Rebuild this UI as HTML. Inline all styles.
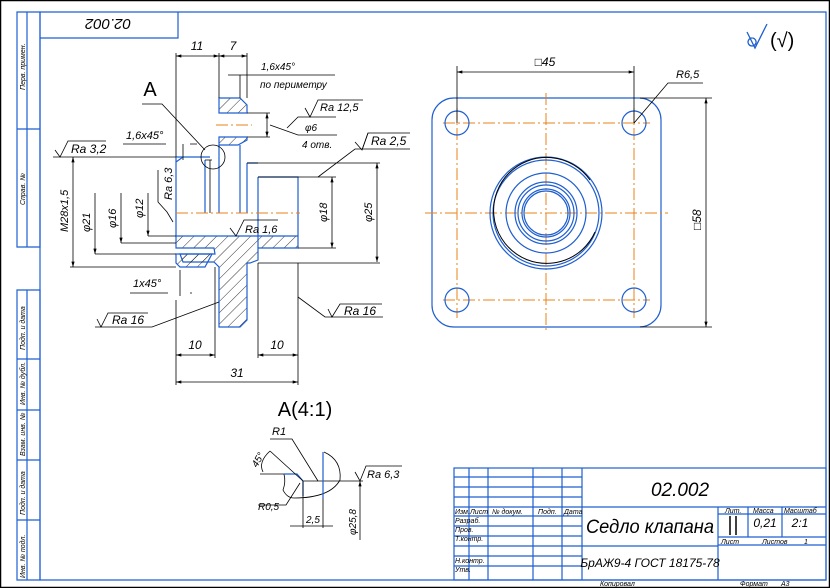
<!DOCTYPE html>
<html><head><meta charset="utf-8"><style>
html,body{margin:0;padding:0;background:#fff;}
svg{display:block;}
text{font-family:"Liberation Sans",sans-serif;font-style:italic;fill:#000;}
.b{stroke:#1f5fd0;fill:none;stroke-width:1.2}
.k{stroke:#000;fill:none;stroke-width:0.8}
.o{stroke:#e8801a;fill:none;stroke-width:1;stroke-dasharray:12 3 2 3}
.hh{stroke:#1f5fd0;stroke-width:1.2;fill:url(#h)}
</style></head><body>
<svg width="830" height="588" viewBox="0 0 830 588" xmlns="http://www.w3.org/2000/svg">
<defs>
<pattern id="h" patternUnits="userSpaceOnUse" width="8" height="8" patternTransform="rotate(45)"><line x1="0" y1="0" x2="0" y2="8" stroke="#000" stroke-width="0.8"/></pattern>
<marker id="a" viewBox="0 0 10 6" refX="10" refY="3" markerWidth="8" markerHeight="4" orient="auto-start-reverse"><path d="M0,0 L10,3 L0,6z" fill="#000"/></marker>
</defs>
<rect x="0.5" y="0.5" width="829" height="587" fill="none" stroke="#000" stroke-width="1.5"/>
<path class="b" d="M40,12 H826 V580 H40 Z"/>
<path class="b" d="M17,12 H40 V247 H17 Z M27,12 V247 M17,129 H40"/>
<path class="b" d="M17,290 H40 V580 H17 Z M27,290 V580 M17,359 H40 M17,410 H40 M17,460 H40 M17,520 H40"/>
<path class="b" d="M40,38 H178 V12"/>
<text x="108" y="31" font-size="15" text-anchor="middle" transform="rotate(180 108 25)">02.002</text>
<g font-size="7">
<text transform="translate(25,90) rotate(-90)">Перв. примен.</text>
<text transform="translate(25,205) rotate(-90)">Справ. №</text>
<text transform="translate(25,350) rotate(-90)">Подп. и дата</text>
<text transform="translate(25,405) rotate(-90)">Инв. № дубл.</text>
<text transform="translate(25,456) rotate(-90)">Взам. инв. №</text>
<text transform="translate(25,515) rotate(-90)">Подп. и дата</text>
<text transform="translate(25,578) rotate(-90)">Инв. № подл.</text>
</g>
<path d="M747,32 L755,48 L767,24 M752,38 a4,4 0 1,0 0.1,0" fill="none" stroke="#1f5fd0" stroke-width="1.3"/>
<text x="770" y="47" font-size="20" style="fill:#000;font-style:normal">(√)</text>

<!-- Section view -->
<path class="hh" d="M219,98 H240 L247,105 V113 H219 Z"/>
<path class="hh" d="M219,137 H247 V140 L238,145 H219 Z"/>
<path class="hh" d="M176,236 H298 V248 H258 V260 L250,263 H247 V320 L240,327 H219 V267 L214,262 H183 L180,254 H215 L214,248 H176 Z"/>
<path class="hh" d="M176,254 H212 L205,267 H180 L176,263 Z"/>
<path class="b" d="M176,157 V236 M205,160 V213 M219,145 V213 M240,145 V213 M247,163 V213 M247,163 H258 M258,177 V248 M258,177 H298 V236 M176,157 H210 M183,157 L176,162"/>
<path class="k" d="M210,160 V213 M205,160 H212"/>
<line class="o" x1="176" y1="213" x2="300" y2="213"/>
<line class="o" x1="216" y1="125" x2="252" y2="125"/>
<circle class="k" cx="213" cy="157" r="12"/>
<path class="k" d="M176,53 V157 M219,53 V98 M247,53 V98 M247,163 H380 M258,263 H380 M258,177 H336 M298,248 H336"/>
<line class="k" x1="176" y1="56" x2="219" y2="56" marker-start="url(#a)" marker-end="url(#a)"/>
<line class="k" x1="219" y1="56" x2="247" y2="56" marker-start="url(#a)" marker-end="url(#a)"/>
<text x="197" y="50" font-size="12" text-anchor="middle">11</text>
<text x="233" y="50" font-size="12" text-anchor="middle">7</text>
<path class="k" d="M228,75 H335 M240,75 V98"/>
<text x="261" y="70" font-size="10">1,6x45°</text>
<text x="260" y="88" font-size="10">по периметру</text>
<path class="k" d="M247,113 H270 M247,137 H270"/>
<line class="k" x1="267" y1="113" x2="267" y2="137" marker-start="url(#a)" marker-end="url(#a)"/>
<path class="k" d="M287,128 L298,117 H336 M270,125 L298,135 H337"/>
<path class="k" d="M305,108 L310,117 L318,100 H363"/>
<text x="320" y="111" font-size="11">Ra 12,5</text>
<text x="305" y="131" font-size="10">φ6</text>
<text x="302" y="148" font-size="10">4 отв.</text>
<text x="150" y="96" font-size="20" text-anchor="middle" style="font-style:normal">A</text>
<path class="k" d="M142,104 H162 L205,150"/>
<text x="126" y="139" font-size="11">1,6x45°</text>
<path class="k" d="M123,144 H166 M190,144 H197 M183,144 V160"/>
<path class="k" d="M53,157 H176 M70,267 H176 M95,254 H176 M121,243 H176 M148,236 H176"/>
<path class="k" d="M55,150 L60,157 L68,141 H106"/>
<text x="71" y="153" font-size="12">Ra 3,2</text>
<line class="k" x1="73" y1="157" x2="73" y2="267" marker-start="url(#a)" marker-end="url(#a)"/>
<line class="k" x1="95" y1="193" x2="95" y2="254" marker-end="url(#a)"/>
<line class="k" x1="121" y1="193" x2="121" y2="243" marker-end="url(#a)"/>
<line class="k" x1="148" y1="193" x2="148" y2="236" marker-end="url(#a)"/>
<text font-size="11" transform="translate(68,232) rotate(-90)">M28x1,5</text>
<text font-size="11" transform="translate(90,232) rotate(-90)">φ21</text>
<text font-size="11" transform="translate(116,228) rotate(-90)">φ16</text>
<text font-size="11" transform="translate(143,218) rotate(-90)">φ12</text>
<path class="k" d="M158,170 V202 L167,212 L173,222"/>
<text font-size="11" transform="translate(172,200) rotate(-90)">Ra 6,3</text>
<path class="k" d="M230,228 L236,236 L244,220 H278"/>
<text x="245" y="233" font-size="11">Ra 1,6</text>
<line class="k" x1="332" y1="177" x2="332" y2="248" marker-start="url(#a)" marker-end="url(#a)"/>
<line class="k" x1="377" y1="163" x2="377" y2="262" marker-start="url(#a)" marker-end="url(#a)"/>
<text font-size="11" transform="translate(327,222) rotate(-90)">φ18</text>
<text font-size="11" transform="translate(372,222) rotate(-90)">φ25</text>
<path class="k" d="M318,177 L355,149 H410 M355,142 L362,150 L368,133"/>
<path class="k" d="M362,150 L368,133 H410"/>
<text x="371" y="145" font-size="12">Ra 2,5</text>
<text x="133" y="287" font-size="11">1x45°</text>
<path class="k" d="M130,293 H168 M190,293 H192 M180,270 V296"/>
<path class="k" d="M95,327 H152 L219,302 M97,319 L101,327 L108,313 H148"/>
<text x="112" y="324" font-size="12">Ra 16</text>
<path class="k" d="M298,297 L325,317 H383 M328,309 L332,317 L340,304 H382"/>
<text x="344" y="315" font-size="12">Ra 16</text>
<path class="k" d="M215,267 V358 M258,263 V358 M298,263 V385 M176,300 V385"/>
<line class="k" x1="176" y1="355" x2="215" y2="355" marker-start="url(#a)" marker-end="url(#a)"/>
<line class="k" x1="258" y1="355" x2="298" y2="355" marker-start="url(#a)" marker-end="url(#a)"/>
<line class="k" x1="176" y1="382" x2="298" y2="382" marker-start="url(#a)" marker-end="url(#a)"/>
<text x="195" y="349" font-size="12" text-anchor="middle">10</text>
<text x="277" y="349" font-size="12" text-anchor="middle">10</text>
<text x="237" y="377" font-size="12" text-anchor="middle">31</text>

<!-- Detail A -->
<text x="305" y="416" font-size="20" text-anchor="middle" style="font-style:normal">A(4:1)</text>
<text x="272" y="435" font-size="11">R1</text>
<path class="k" d="M270,439 H292 L318,481"/>
<path class="k" d="M260,474 H284 M284,474 Q286,482 283,490 Q287,498 294,498 Q330,498 340,480 Q342,460 324,452 M303,481 H363"/>
<path class="b" d="M284,474 H297 L303,481 M323,452 V498 M303,481 V496"/>
<path class="k" d="M270,451 L303,481 M263,472 Q258,462 270,451"/>
<text font-size="10" transform="translate(257,468) rotate(-60)">45°</text>
<path class="k" d="M300,483 L286,505 H258"/>
<text x="258" y="510" font-size="10">R0,5</text>
<path class="k" d="M303,481 V528 M323,498 V528"/>
<line class="k" x1="290" y1="526" x2="333" y2="526"/>
<text x="306" y="523" font-size="10">2,5</text>
<line class="k" x1="360" y1="481" x2="360" y2="540" marker-start="url(#a)"/>
<text font-size="10" transform="translate(356,535) rotate(-90)">φ25,8</text>
<path class="k" d="M355,472 L360,481 L366,466 H402"/>
<text x="367" y="478" font-size="11">Ra 6,3</text>

<!-- Top view -->
<rect class="b" x="432" y="98" width="229" height="229" rx="22"/>
<line class="o" x1="425" y1="213" x2="668" y2="213"/>
<line class="o" x1="546" y1="93" x2="546" y2="332"/>
<line class="o" x1="443" y1="123" x2="650" y2="123"/>
<line class="o" x1="443" y1="300" x2="650" y2="300"/>
<line class="o" x1="457" y1="108" x2="457" y2="318"/>
<line class="o" x1="634" y1="108" x2="634" y2="318"/>
<g class="b">
<circle cx="457" cy="123" r="12"/><circle cx="634" cy="123" r="12"/>
<circle cx="457" cy="300" r="12"/><circle cx="634" cy="300" r="12"/>
<circle cx="546" cy="213" r="56"/><circle cx="546" cy="213" r="53"/>
<circle cx="546" cy="213" r="40"/><circle cx="546" cy="213" r="31"/>
<circle cx="546" cy="213" r="28"/><circle cx="546" cy="213" r="24"/><circle cx="546" cy="213" r="22"/>
</g>
<path d="M590,180 A53,53 0 1,0 595,232" fill="none" stroke="#000" stroke-width="1"/>
<path class="k" d="M457,66 V123 M634,66 V123 M640,98 H712 M640,327 H712"/>
<line class="k" x1="457" y1="72" x2="634" y2="72" marker-start="url(#a)" marker-end="url(#a)"/>
<text x="545" y="66" font-size="12" text-anchor="middle">□45</text>
<line class="k" x1="706" y1="98" x2="706" y2="327" marker-start="url(#a)" marker-end="url(#a)"/>
<text font-size="12" transform="translate(701,230) rotate(-90)">□58</text>
<path class="k" d="M634,123 L668,83 H703"/>
<text x="676" y="78" font-size="11">R6,5</text>

<!-- Title block -->
<g class="b">
<rect x="454" y="468" width="372" height="112"/>
<path d="M582,468 V580 M454,477 H582 M454,487 H582 M454,497 H582 M454,507 H826 M454,516 H582 M454,526 H582 M454,536 H582 M454,546 H582 M454,556 H582 M454,566 H582"/>
<path d="M469,468 V580 M488,468 V580 M533,468 V580 M562,468 V580"/>
<path d="M582,546 H718 M718,507 V580 M748,507 V537 M782,507 V537 M718,514 H826 M718,537 H826 M718,545 H826"/>
</g>
<path d="M730,516 V535 M736,516 V535" stroke="#000" stroke-width="1.5"/>
<text x="680" y="496" font-size="19" text-anchor="middle">02.002</text>
<text x="650" y="533" font-size="19" text-anchor="middle" textLength="128" lengthAdjust="spacingAndGlyphs">Седло клапана</text>
<text x="650" y="567" font-size="12" text-anchor="middle">БрАЖ9-4 ГОСТ 18175-78</text>
<g font-size="7">
<text x="725" y="513">Лит.</text><text x="753" y="513">Масса</text><text x="784" y="513">Масштаб</text>
<text x="721" y="544">Лист</text><text x="762" y="544">Листов</text><text x="804" y="544">1</text>
<text x="455" y="514">Изм.</text><text x="470" y="514">Лист</text><text x="492" y="514">№ докум.</text><text x="538" y="514">Подп.</text><text x="564" y="514">Дата</text>
<text x="455" y="523">Разраб.</text><text x="455" y="532">Пров.</text><text x="455" y="541">Т.контр.</text>
<text x="455" y="563">Н.контр.</text><text x="455" y="572">Утв.</text>
<text x="600" y="586">Копировал</text><text x="740" y="586">Формат</text><text x="781" y="586">А3</text>
</g>
<text x="765" y="527" font-size="12" text-anchor="middle">0,21</text>
<text x="800" y="527" font-size="12" text-anchor="middle">2:1</text>
</svg>
</body></html>
